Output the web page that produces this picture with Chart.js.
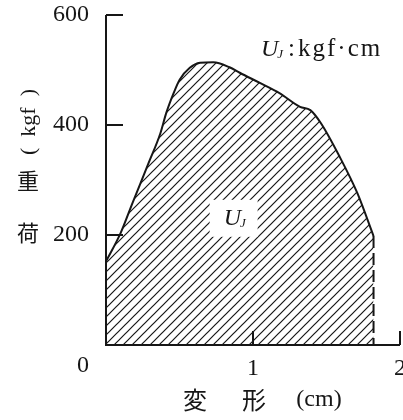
<!DOCTYPE html>
<html>
<head>
<meta charset="utf-8">
<script src="https://cdn.jsdelivr.net/npm/chart.js@4.4.1/dist/chart.umd.min.js"></script>
<style>
  html, body { margin: 0; padding: 0; background: #fff; }
</style>
</head>
<body>
<canvas id="chart" width="403" height="420"></canvas>
<script>
// load - deformation curve
const deformation = [0, 0.10, 0.18, 0.29, 0.37, 0.41, 0.46, 0.50, 0.57, 0.64, 0.73, 0.84, 0.91, 1.05, 1.18, 1.32, 1.39, 1.46, 1.59, 1.71, 1.82];
const load = [152, 204, 258, 331, 385, 422, 458, 482, 504, 513, 514, 505, 495, 476, 458, 433, 427, 404, 342, 276, 198];
const xTicks = [0, 1, 2];
const yTicks = [0, 200, 400, 600];

const yTitleKanji = ['荷', '重'];
const yTitleUnit = '(  kgf  )';
const xTitle = ['変', '形', '(cm)'];
const unitNote = ':';
const unitName = 'kgf·cm';

const ink = '#161616';
const serif = '"Liberation Serif", "DejaVu Serif", serif';
const cjk = '"Noto Sans CJK JP", sans-serif';

const points = deformation.map((d, i) => ({ x: d, y: load[i] }));
const last = points[points.length - 1];

function hatch(ctx) {
    const c = document.createElement('canvas');
    c.width = 9;
    c.height = 9;
    const g = c.getContext('2d');
    g.strokeStyle = ink;
    g.lineWidth = 1.2;
    g.beginPath();
    g.moveTo(-1, 10); g.lineTo(10, -1);
    g.moveTo(-1, 1); g.lineTo(1, -1);
    g.moveTo(8, 10); g.lineTo(10, 8);
    g.stroke();
    return ctx.createPattern(c, 'repeat');
}

// U with subscript J
function drawUJ(ctx, x, baseline, size) {
    ctx.font = 'italic ' + size + 'px ' + serif;
    ctx.textAlign = 'left';
    ctx.textBaseline = 'alphabetic';
    ctx.fillText('U', x, baseline);
    const w = ctx.measureText('U').width;
    ctx.font = 'italic ' + Math.round(size * 0.55) + 'px ' + serif;
    ctx.fillText('J', x + w - 1, baseline + 2);
    return x + w - 1 + ctx.measureText('J').width;
}

const decor = {
    id: 'decor',
    afterDatasetsDraw(chart) {
        const { ctx, scales: { x, y } } = chart;
        const x0 = x.getPixelForValue(0);
        const y0 = y.getPixelForValue(0);
        const yTop = y.getPixelForValue(yTicks[yTicks.length - 1]);
        const xEnd = x.getPixelForValue(xTicks[xTicks.length - 1]);
        ctx.save();
        ctx.strokeStyle = ink;
        ctx.fillStyle = ink;
        ctx.lineWidth = 2;

        // axes with inward ticks
        ctx.beginPath();
        ctx.moveTo(x0, yTop);
        ctx.lineTo(x0, y0);
        ctx.lineTo(xEnd, y0);
        yTicks.filter(v => v > 0).forEach(v => {
            const p = y.getPixelForValue(v);
            ctx.moveTo(x0, p);
            ctx.lineTo(x0 + 17, p);
        });
        xTicks.filter(v => v > 0).forEach(v => {
            const p = x.getPixelForValue(v);
            ctx.moveTo(p, y0);
            ctx.lineTo(p, y0 - 14);
        });
        ctx.stroke();

        // shared origin label
        ctx.font = '24px ' + serif;
        ctx.textAlign = 'center';
        ctx.textBaseline = 'middle';
        ctx.fillText('0', x0 - 23, y0 + 21);

        // area label on a white patch
        const ax = x.getPixelForValue(0.705);
        const ay = y.getPixelForValue(264);
        ctx.fillStyle = '#fff';
        ctx.fillRect(ax, ay, 48, 37);
        ctx.fillStyle = ink;
        drawUJ(ctx, ax + 14, ay + 25, 24);

        // unit note, upper right
        drawUJ(ctx, 261, 56, 24);
        ctx.font = '25px ' + serif;
        ctx.textAlign = 'left';
        ctx.fillText(unitNote, 288, 56);
        ctx.letterSpacing = '2px';
        ctx.fillText(unitName, 298, 56);
        ctx.letterSpacing = '0px';

        // y title: upright kanji, rotated unit
        ctx.font = '22px ' + cjk;
        ctx.textAlign = 'center';
        ctx.textBaseline = 'middle';
        ctx.fillText(yTitleKanji[0], 28, 233);
        ctx.fillText(yTitleKanji[1], 28, 181);
        ctx.save();
        ctx.translate(29, 122);
        ctx.rotate(-Math.PI / 2);
        ctx.font = '22px ' + serif;
        ctx.fillText(yTitleUnit, 0, 0);
        ctx.restore();

        // x title
        ctx.font = '24px ' + cjk;
        ctx.fillText(xTitle[0], 195, 400);
        ctx.fillText(xTitle[1], 254, 400);
        ctx.font = '24px ' + serif;
        ctx.fillText(xTitle[2], 319, 400);
        ctx.restore();
    }
};

const ctx = document.getElementById('chart').getContext('2d');

const loadChart = new Chart(ctx,
    {
        type: 'line',
        data:
        {
            datasets:
            [
                {
                    label: 'U_J',
                    data: points,
                    borderColor: ink,
                    borderWidth: 2,
                    pointRadius: 0,
                    cubicInterpolationMode: 'monotone',
                    fill: 'origin',
                    backgroundColor: hatch(ctx)
                },
                {
                    label: 'unloading',
                    data: [last, { x: last.x, y: 0 }],
                    borderColor: ink,
                    borderWidth: 2,
                    borderDash: [12, 5],
                    pointRadius: 0,
                    fill: false
                }
            ]
        },
        options:
        {
            responsive: false,
            animation: false,
            layout: { padding: { top: 15, right: 3, left: 0, bottom: 0 } },
            plugins:
            {
                legend: { display: false },
                tooltip: { enabled: false }
            },
            scales:
            {
                x:
                {
                    type: 'linear',
                    min: xTicks[0],
                    max: xTicks[xTicks.length - 1],
                    grid: { display: false, drawTicks: false },
                    border: { display: false },
                    afterBuildTicks: s => { s.ticks = xTicks.map(v => ({ value: v })); },
                    afterFit: s => { s.height = 75; s.paddingLeft = 0; s.paddingRight = 0; },
                    ticks:
                    {
                        autoSkip: false,
                        maxRotation: 0,
                        padding: 9,
                        color: ink,
                        font: { family: serif, size: 24 },
                        callback: v => v === 0 ? '' : String(v)
                    }
                },
                y:
                {
                    min: yTicks[0],
                    max: yTicks[yTicks.length - 1],
                    grid: { display: false, drawTicks: false },
                    border: { display: false },
                    afterBuildTicks: s => { s.ticks = yTicks.map(v => ({ value: v })); },
                    afterFit: s => { s.width = 106; s.paddingTop = 0; s.paddingBottom = 0; },
                    ticks:
                    {
                        autoSkip: false,
                        padding: 17,
                        color: ink,
                        font: { family: serif, size: 24 },
                        callback: v => v === 0 ? '' : String(v)
                    }
                }
            }
        },
        plugins: [decor]
    })
</script>
</body>
</html>
